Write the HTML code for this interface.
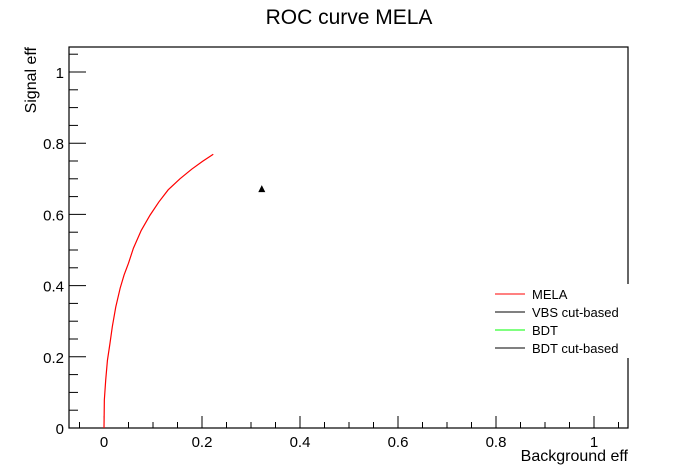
<!DOCTYPE html>
<html><head><meta charset="utf-8"><style>
body{margin:0;background:#fff;}
svg{display:block;font-family:"Liberation Sans",sans-serif;}
</style></head><body>
<svg id="chart" width="698" height="476">
<text x="349" y="24" font-size="21" text-anchor="middle">ROC curve MELA</text>
<rect x="69" y="47" width="559" height="381" fill="none" stroke="#000" stroke-width="1.2"/>
<g id="axes"></g>
<g id="marks"></g>
<text x="628" y="461" font-size="16" text-anchor="end">Background eff</text>
<text transform="translate(36,47) rotate(-90)" font-size="16" text-anchor="end">Signal eff</text>
<g>
<rect x="480" y="284" width="220" height="74" fill="#fff"/>
<g><line x1="495" x2="525" y1="294" y2="294" stroke="#f00"/><text x="532" y="299" font-size="13">MELA</text></g>
<g><line x1="495" x2="525" y1="312" y2="312" stroke="#000"/><text x="532" y="317" font-size="13">VBS cut-based</text></g>
<g><line x1="495" x2="525" y1="330" y2="330" stroke="#0f0"/><text x="532" y="335" font-size="13">BDT</text></g>
<g><line x1="495" x2="525" y1="348" y2="348" stroke="#000"/><text x="532" y="353" font-size="13">BDT cut-based</text></g>
</g>
</svg>
<script>
const melaBkg=[0,0.0007,0.0035,0.007,0.012,0.017,0.024,0.033,0.041,0.050,0.060,0.076,0.094,0.112,0.131,0.155,0.179,0.201,0.223];
const melaSig=[0,0.079,0.135,0.19,0.236,0.285,0.34,0.393,0.43,0.463,0.505,0.555,0.598,0.635,0.669,0.700,0.727,0.749,0.769];
const vbsBkg=[0.322];
const vbsSig=[0.671];
const xTicks=[0,0.2,0.4,0.6,0.8,1];
const xTickLabels=["0","0.2","0.4","0.6","0.8","1"];
const yTicks=[0,0.2,0.4,0.6,0.8,1];
const yTickLabels=["0","0.2","0.4","0.6","0.8","1"];
const X=v=>104+v*490, Y=v=>428-v*356;
const NS="http://www.w3.org/2000/svg";
const axes=document.getElementById('axes'), marks=document.getElementById('marks');
function mk(tag,attrs,parent){const e=document.createElementNS(NS,tag);for(const k in attrs)e.setAttribute(k,attrs[k]);parent.appendChild(e);return e;}
for(let i=-1;i<=21;i++){const v=i*0.05;const x=X(v);if(x<69||x>628)continue;const major=i%4===0;
 const t=mk('line',{x1:x,x2:x,y1:428,y2:428-(major?12:6),stroke:'#000'},axes);
 
 }
for(let i=0;i<=21;i++){const v=i*0.05;const y=Y(v);if(y<47)continue;const major=i%4===0;
 const t=mk('line',{x1:69,x2:69+(major?17:9),y1:y,y2:y,stroke:'#000'},axes);
 
 }
xTicks.forEach((v,i)=>{const t=mk('text',{x:X(v),y:447,'font-size':15,'text-anchor':'middle'},axes);t.textContent=xTickLabels[i];
 
 });
yTicks.forEach((v,i)=>{const t=mk('text',{x:64,y:Y(v)+6,'font-size':15,'text-anchor':'end'},axes);t.textContent=yTickLabels[i];
 
 });
const p=mk('polyline',{points:melaBkg.map((b,i)=>X(b)+','+Y(melaSig[i])).join(' '),fill:'none',stroke:'#f00','stroke-width':1.2},marks);


vbsBkg.forEach((b,i)=>{const x=X(b),y=Y(vbsSig[i]);
 const t=mk('polygon',{points:`${x-3.5},${y+3} ${x+3.5},${y+3} ${x},${y-4}`,fill:'#000'},marks);
 
 });
</script>
</body></html>
